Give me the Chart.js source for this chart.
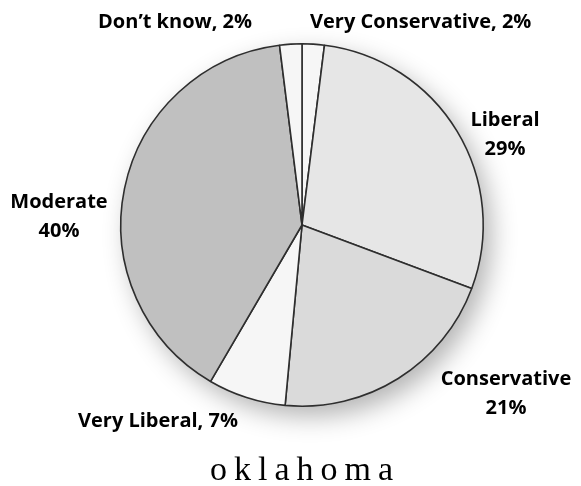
<!DOCTYPE html>
<html>
<head>
<meta charset="utf-8">
<script src="https://cdn.jsdelivr.net/npm/chart.js@4.4.1/dist/chart.umd.min.js"></script>
<style>
  html, body { margin: 0; padding: 0; background: #fff; }
  #wrap { width: 581px; height: 486px; position: relative; }
</style>
</head>
<body>
<div id="wrap"><canvas id="pieChart" width="581" height="486"></canvas></div>
<script>
const categories = ["Very Conservative", "Liberal", "Conservative", "Very Liberal", "Moderate", "Don\u2019t know"];
const percents = [2, 29, 21, 7, 40, 2];
const sliceColors = ["#f6f6f6", "#e6e6e6", "#dadada", "#f6f6f6", "#c0c0c0", "#f6f6f6"];
const chartTitle = "oklahoma";

// label text placement (anchor x, first baseline y, alignment, one line or two)
const labelPlaces = [
  { x: 310, y: 28, align: "left", split: false },
  { x: 505, y: 126, align: "center", split: true },
  { x: 506, y: 385, align: "center", split: true },
  { x: 78, y: 427, align: "left", split: false },
  { x: 59, y: 208, align: "center", split: true },
  { x: 252, y: 28, align: "right", split: false },
];

const shadowPlugin = {
  id: "pieShadow",
  beforeDatasetsDraw(chart) {
    const arc = chart.getDatasetMeta(0).data[0];
    if (!arc) return;
    const ctx = chart.ctx;
    ctx.save();
    ctx.shadowColor = "rgba(0,0,0,0.3)";
    ctx.shadowBlur = 26;
    ctx.shadowOffsetX = 8;
    ctx.shadowOffsetY = 10;
    ctx.fillStyle = "#fff";
    ctx.beginPath();
    ctx.arc(arc.x, arc.y, arc.outerRadius, 0, Math.PI * 2);
    ctx.fill();
    ctx.restore();
  },
};

const labelPlugin = {
  id: "sliceLabels",
  afterDraw(chart) {
    const ctx = chart.ctx;
    ctx.save();
    ctx.fillStyle = "#000";
    ctx.font = "bold 20px 'Open Sans'";
    categories.forEach((name, i) => {
      const p = labelPlaces[i];
      ctx.textAlign = p.align;
      if (p.split) {
        ctx.fillText(name, p.x, p.y);
        ctx.fillText(percents[i] + "%", p.x, p.y + 29);
      } else {
        ctx.fillText(name + ", " + percents[i] + "%", p.x, p.y);
      }
    });

    ctx.font = "34px 'Liberation Serif'";
    ctx.letterSpacing = "7px";
    ctx.textAlign = "center";
    ctx.fillText(chartTitle, 305, 480);
    ctx.restore();
  },
};

document.addEventListener("DOMContentLoaded", function () {
  const ctx = document.getElementById("pieChart").getContext("2d");
  new Chart(ctx, {
    type: "pie",
    data: {
      labels: categories,
      datasets: [
        {
          data: percents,
          backgroundColor: sliceColors,
          borderColor: "#2e2e2e",
          borderWidth: 1.6,
        },
      ],
    },
    options: {
      responsive: false,
      animation: false,
      layout: { padding: { left: 120, right: 97, top: 43, bottom: 79 } },
      plugins: {
        legend: { display: false },
        tooltip: { enabled: false },
      },
    },
    plugins: [shadowPlugin, labelPlugin],
  });
});
</script>
</body>
</html>
